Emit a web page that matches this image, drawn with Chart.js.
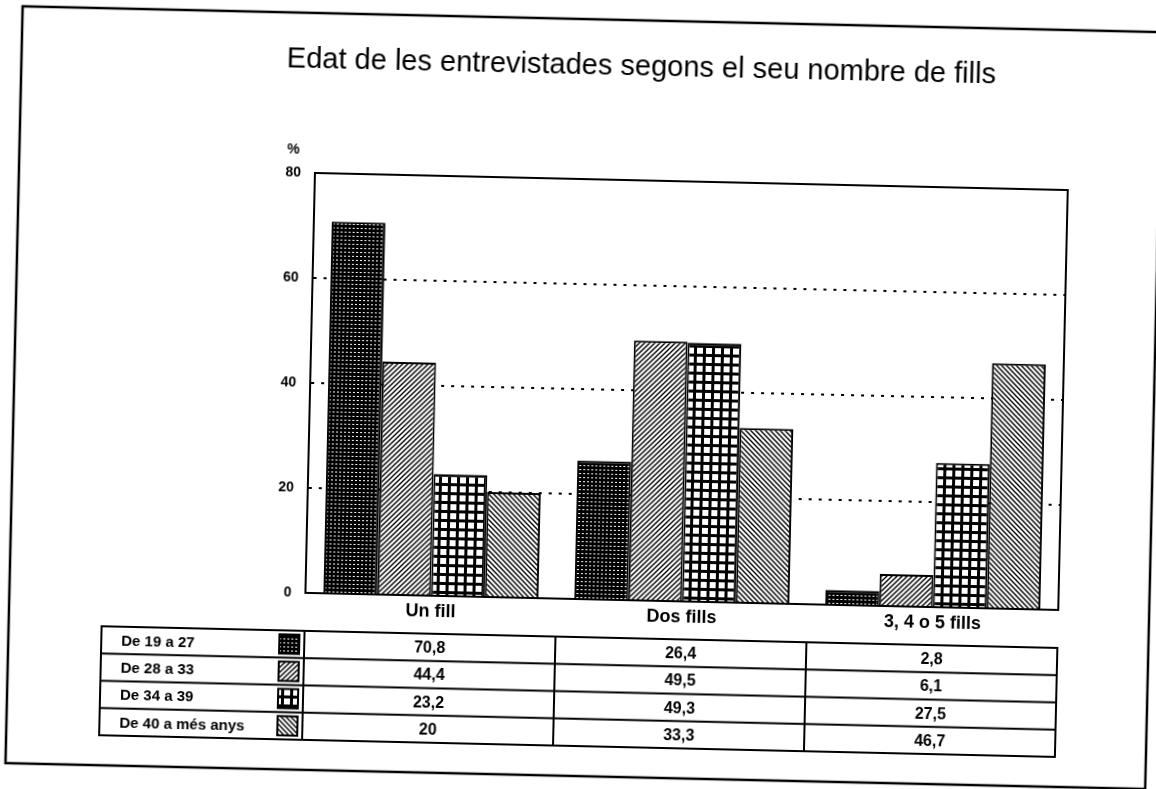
<!DOCTYPE html>
<html><head><meta charset="utf-8">
<script src="https://cdn.jsdelivr.net/npm/chart.js@4.4.0/dist/chart.umd.min.js"></script>
<style>
html,body{margin:0;padding:0;background:#fff;overflow:hidden;width:1156px;height:789px;}
#wrap{position:absolute;left:0;top:0;width:1156px;height:789px;transform:rotate(1.3deg);transform-origin:578px 394px;}
canvas{display:block;}
</style></head><body>
<div id="wrap"><canvas id="c" width="1156" height="789"></canvas></div>
<script>
const categories = ['Un fill', 'Dos fills', '3, 4 o 5 fills'];
const seriesNames = ['De 19 a 27', 'De 28 a 33', 'De 34 a 39', 'De 40 a més anys'];
const age19to27 = [70.8, 26.4, 2.8];
const age28to33 = [44.4, 49.5, 6.1];
const age34to39 = [23.2, 49.3, 27.5];
const age40plus = [20, 33.3, 46.7];
const yTickValues = [0, 20, 40, 60, 80];
const titleText = 'Edat de les entrevistades segons el seu nombre de fills';
const yUnit = '%';

const seriesValues = [age19to27, age28to33, age34to39, age40plus];
const FONT = '"Liberation Sans", Arial, Helvetica, sans-serif';

function makePattern(kind) {
  const t = document.createElement('canvas');
  const g = t.getContext('2d');
  if (kind === 'dots') {
    t.width = 4; t.height = 4;
    g.fillStyle = '#000'; g.fillRect(0, 0, 4, 4);
    g.fillStyle = '#fff'; g.fillRect(1, 1, 2, 1);
  } else if (kind === 'fwd' || kind === 'back') {
    const s = 5; t.width = s; t.height = s;
    g.fillStyle = '#fff'; g.fillRect(0, 0, s, s);
    g.strokeStyle = '#000'; g.lineWidth = 1.4; g.beginPath();
    if (kind === 'fwd') {
      g.moveTo(0, s); g.lineTo(s, 0);
      g.moveTo(-1, 1); g.lineTo(1, -1);
      g.moveTo(s - 1, s + 1); g.lineTo(s + 1, s - 1);
    } else {
      g.moveTo(0, 0); g.lineTo(s, s);
      g.moveTo(-1, s - 1); g.lineTo(1, s + 1);
      g.moveTo(s - 1, -1); g.lineTo(s + 1, 1);
    }
    g.stroke();
  } else {
    const s = 9; t.width = s; t.height = s;
    g.fillStyle = '#fff'; g.fillRect(0, 0, s, s);
    g.fillStyle = '#000'; g.fillRect(0, 0, s, 3); g.fillRect(0, 0, 3, s);
  }
  return g.createPattern(t, 'repeat');
}
const patterns = [makePattern('dots'), makePattern('fwd'), makePattern('grid'), makePattern('back')];

function fmt(v) { return String(v).replace('.', ','); }

const decorPlugin = {
  id: 'decor',
  afterDraw(chart) {
    const ctx = chart.ctx;
    const ca = chart.chartArea;
    const xs = chart.scales.x;
    ctx.save();
    ctx.fillStyle = '#000';
    ctx.strokeStyle = '#000';
    // outer frame
    ctx.lineWidth = 2.5;
    ctx.strokeRect(14, 19, 1140, 757);
    // title
    ctx.font = 'normal 29px ' + FONT;
    ctx.textAlign = 'center';
    ctx.textBaseline = 'alphabetic';
    ctx.fillText(titleText, 634, 74);
    // unit
    ctx.font = 'bold 14px ' + FONT;
    ctx.textBaseline = 'middle';
    ctx.fillText(yUnit, 288, 156);
    // plot frame
    ctx.lineWidth = 2;
    ctx.strokeRect(ca.left, ca.top, ca.right - ca.left, ca.bottom - ca.top);
    // data table
    const n = categories.length;
    const colW = (xs.right - xs.left) / n;
    const tLeft = 107, tTop = 637, rowH = 27.25;
    const rows = seriesNames.length;
    const tRight = xs.right;
    ctx.lineWidth = 2;
    ctx.strokeRect(tLeft, tTop, tRight - tLeft, rows * rowH);
    ctx.beginPath();
    for (let r = 1; r < rows; r++) {
      ctx.moveTo(tLeft, tTop + r * rowH);
      ctx.lineTo(tRight, tTop + r * rowH);
    }
    for (let i = 0; i < n; i++) {
      const xb = xs.getPixelForValue(i) - colW / 2;
      ctx.moveTo(xb, tTop);
      ctx.lineTo(xb, tTop + rows * rowH);
    }
    ctx.stroke();
    for (let r = 0; r < rows; r++) {
      const mid = tTop + r * rowH + rowH / 2 + 1;
      ctx.font = 'bold 15px ' + FONT;
      ctx.textAlign = 'left';
      ctx.textBaseline = 'middle';
      ctx.fillText(seriesNames[r], tLeft + 20, mid);
      // swatch
      const sx = xs.left - 25, sy = tTop + r * rowH + 4, sw = 20, sh = rowH - 8;
      ctx.fillStyle = patterns[r];
      ctx.fillRect(sx, sy, sw, sh);
      ctx.fillStyle = '#000';
      ctx.lineWidth = 2;
      ctx.strokeRect(sx, sy, sw, sh);
      ctx.font = 'bold 16px ' + FONT;
      ctx.textAlign = 'center';
      for (let i = 0; i < n; i++) {
        ctx.fillText(fmt(seriesValues[r][i]), xs.getPixelForValue(i), mid);
      }
    }
    ctx.restore();
  }
};

new Chart(document.getElementById('c'), {
  type: 'bar',
  data: {
    labels: categories,
    datasets: seriesNames.map((name, k) => ({
      label: name,
      data: seriesValues[k],
      backgroundColor: patterns[k],
      borderColor: '#000',
      borderWidth: 2,
      categoryPercentage: 0.857,
      barPercentage: 1.0
    }))
  },
  options: {
    responsive: false,
    animation: false,
    devicePixelRatio: 1,
    layout: { padding: { left: 250, right: 93, top: 179, bottom: 150 } },
    plugins: {
      legend: { display: false },
      title: { display: false },
      tooltip: { enabled: false }
    },
    scales: {
      x: {
        grid: { display: false, drawTicks: false },
        border: { display: true, color: '#000', width: 2 },
        ticks: { color: '#000', padding: 5, font: { family: FONT, size: 18, weight: 'bold' } },
        afterFit(scale) { scale.height = 40; }
      },
      y: {
        min: 0, max: 80,
        afterBuildTicks(scale) { scale.ticks = yTickValues.map(v => ({ value: v })); },
        grid: {
          drawTicks: false,
          lineWidth: 2,
          color: (c) => (c.tick && (c.tick.value === 0 || c.tick.value === 80)) ? 'rgba(0,0,0,0)' : '#000'
        },
        border: { display: true, color: '#000', width: 2, dash: [3, 7] },
        ticks: { color: '#000', padding: 14, font: { family: FONT, size: 14, weight: 'bold' } },
        afterFit(scale) { scale.width = 60; }
      }
    }
  },
  plugins: [decorPlugin]
});
</script>
</body></html>
